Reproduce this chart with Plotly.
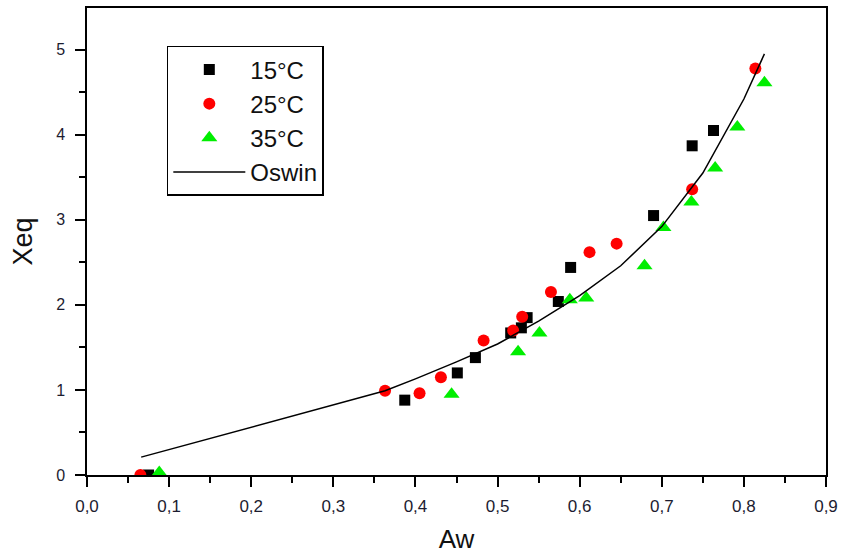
import plotly.graph_objects as go

# Sorption isotherm data: water activity (Aw) vs equilibrium moisture (Xeq)
aw_15 = [0.075, 0.387, 0.451, 0.473, 0.516, 0.529, 0.536, 0.574, 0.589, 0.690, 0.737, 0.763]
xeq_15 = [0.00, 0.88, 1.20, 1.38, 1.67, 1.73, 1.85, 2.04, 2.44, 3.05, 3.87, 4.05]

aw_25 = [0.065, 0.363, 0.405, 0.431, 0.483, 0.519, 0.530, 0.565, 0.612, 0.645, 0.737, 0.814]
xeq_25 = [0.00, 0.99, 0.96, 1.15, 1.58, 1.70, 1.86, 2.15, 2.62, 2.72, 3.36, 4.78]

aw_35 = [0.088, 0.444, 0.525, 0.551, 0.588, 0.608, 0.679, 0.702, 0.736, 0.765, 0.792, 0.825]
xeq_35 = [0.03, 0.95, 1.45, 1.67, 2.06, 2.08, 2.46, 2.91, 3.21, 3.61, 4.09, 4.61]

# Oswin model curve
aw_oswin = [0.066, 0.363, 0.40, 0.45, 0.50, 0.55, 0.60, 0.65, 0.70, 0.75, 0.80, 0.825]
xeq_oswin = [0.21, 0.99, 1.13, 1.33, 1.54, 1.81, 2.11, 2.46, 2.92, 3.55, 4.42, 4.95]

x_ticks = [0.0, 0.1, 0.2, 0.3, 0.4, 0.5, 0.6, 0.7, 0.8, 0.9]
y_ticks = [0, 1, 2, 3, 4, 5]

FONT = "Arial, Liberation Sans, sans-serif"

fig = go.Figure()
fig.add_trace(go.Scatter(x=aw_15, y=xeq_15, mode="markers", name="15°C",
                         marker=dict(symbol="square", size=11, color="black")))
fig.add_trace(go.Scatter(x=aw_25, y=xeq_25, mode="markers", name="25°C",
                         marker=dict(symbol="circle", size=12, color="#ff0000")))
fig.add_trace(go.Scatter(x=aw_35, y=xeq_35, mode="markers", name="35°C",
                         marker=dict(symbol="triangle-up", size=14, color="#00ee00")))
fig.add_trace(go.Scatter(x=aw_oswin, y=xeq_oswin, mode="lines", name="Oswin",
                         line=dict(color="black", width=1.5)))

axis_common = dict(
    showline=True, linecolor="black", linewidth=1.5, mirror=True,
    ticks="outside", ticklen=10, tickwidth=1.5, tickcolor="black",
    showgrid=False, zeroline=False, automargin=False,
)

fig.update_layout(
    width=843, height=554,
    margin=dict(l=87, r=17, t=8, b=79),
    paper_bgcolor="white", plot_bgcolor="white",
    separators=", ",
    showlegend=True,
    legend=dict(
        x=0.108, y=0.919, xanchor="left", yanchor="top",
        bgcolor="white", bordercolor="black", borderwidth=1.5,
        font=dict(family=FONT, size=24, color="#111"),
        tracegroupgap=0, itemwidth=72,
    ),
    xaxis=dict(
        range=[0, 0.9], tickvals=x_ticks, tickformat=".1f",
        tickfont=dict(family=FONT, size=17, color="#1c1c30"),
        ticklabelstandoff=5,
        minor=dict(dtick=0.05, ticks="outside", ticklen=6, tickwidth=1.5, tickcolor="black"),
        title=dict(text="Aw", font=dict(family=FONT, size=26, color="#111"), standoff=18),
        **axis_common,
    ),
    yaxis=dict(
        range=[0, 5.49], tickvals=y_ticks,
        tickfont=dict(family=FONT, size=16, color="#1c1c30"),
        ticklabelstandoff=7,
        minor=dict(dtick=0.5, ticks="outside", ticklen=6, tickwidth=1.5, tickcolor="black"),
        title=dict(text="Xeq", font=dict(family=FONT, size=27, color="#111"), standoff=16),
        **axis_common,
    ),
)

fig.write_html("out.html")
